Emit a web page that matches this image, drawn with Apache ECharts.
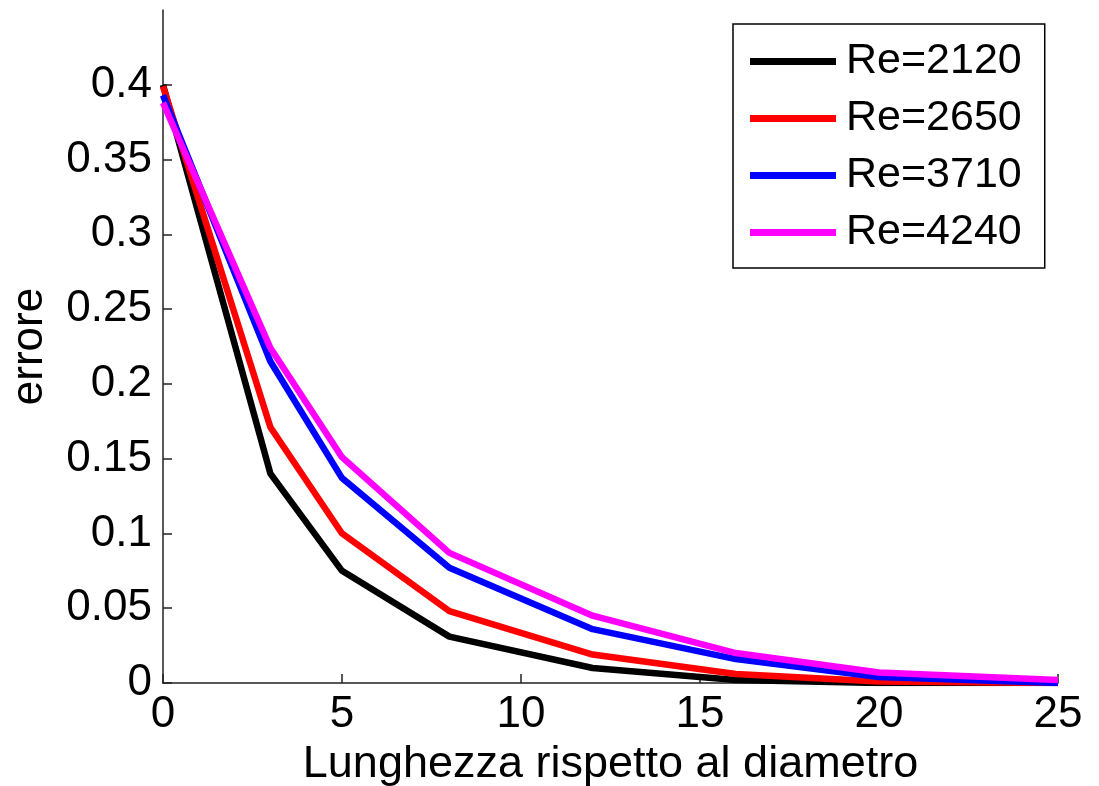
<!DOCTYPE html>
<html>
<head>
<meta charset="utf-8">
<script src="https://cdn.jsdelivr.net/npm/echarts@6/dist/echarts.min.js"></script>
<style>
  html, body { margin: 0; padding: 0; background: #fff; }
  #chart { width: 1099px; height: 786px; }
</style>
</head>
<body>
<div id="chart"></div>
<script>
// dati
var lunghezza = [0, 3, 5, 8, 12, 16, 20, 25];
var seriesNames = ['Re=2120', 'Re=2650', 'Re=3710', 'Re=4240'];
var re2120 = [0.400, 0.140, 0.075, 0.031, 0.010, 0.002, 0.000, 0.000];
var re2650 = [0.399, 0.171, 0.100, 0.048, 0.019, 0.006, 0.001, 0.000];
var re3710 = [0.393, 0.215, 0.137, 0.077, 0.036, 0.016, 0.004, 0.000];
var re4240 = [0.388, 0.224, 0.151, 0.087, 0.045, 0.020, 0.007, 0.002];
var yTicks = [0, 0.05, 0.1, 0.15, 0.2, 0.25, 0.3, 0.35, 0.4];

var colors = ['#000000', '#ff0000', '#0000ff', '#ff00ff'];
var allValues = [re2120, re2650, re3710, re4240];
var fontName = '"Liberation Sans", Arial, sans-serif';

var chart = echarts.init(document.getElementById('chart'));

function pairs(vals) {
    return lunghezza.map(function (x, i) { return [x, vals[i]]; });
}

var axisLineStyle = { color: '#222', width: 1.5 };

var option = {
    animation: false,
    backgroundColor: '#fff',
    grid: { left: 163, right: 41, top: 10, bottom: 103, outerBoundsMode: 'none', containLabel: false },
    legend: {
        orient: 'vertical',
        left: 733,
        top: 24,
        padding: [16, 23, 14, 17],
        itemGap: 14,
        itemWidth: 86,
        itemHeight: 7,
        icon: 'rect',
        borderColor: '#000',
        borderWidth: 1.5,
        backgroundColor: '#fff',
        data: seriesNames,
        textStyle: {
            fontFamily: fontName,
            fontSize: 43,
            color: '#000',
            padding: [0, 0, 0, 5]
        }
    },
    xAxis: {
        type: 'value',
        min: 0,
        max: 25,
        interval: 5,
        name: 'Lunghezza rispetto al diametro',
        nameLocation: 'middle',
        nameGap: 58,
        nameTextStyle: { fontFamily: fontName, fontSize: 45, color: '#000' },
        axisLine: { show: true, lineStyle: axisLineStyle },
        axisTick: { show: true, inside: true, length: 9, lineStyle: axisLineStyle },
        axisLabel: { fontFamily: fontName, fontSize: 44, color: '#000', margin: 10 },
        splitLine: { show: false }
    },
    yAxis: {
        type: 'value',
        min: 0,
        max: 0.45,
        name: 'errore',
        nameLocation: 'middle',
        nameGap: 111,
        nameTextStyle: { fontFamily: fontName, fontSize: 44, color: '#000' },
        axisLine: { show: true, lineStyle: axisLineStyle },
        axisTick: { show: true, inside: true, length: 9, lineStyle: axisLineStyle, customValues: yTicks },
        axisLabel: { fontFamily: fontName, fontSize: 44, color: '#000', margin: 11, customValues: yTicks },
        splitLine: { show: false }
    },
    series: seriesNames.map(function (name, i) {
        return {
            name: name,
            type: 'line',
            data: pairs(allValues[i]),
            showSymbol: false,
            symbol: 'none',
            color: colors[i],
            lineStyle: { color: colors[i], width: 6.5 },
            z: 2 + i
        };
    })
};

chart.setOption(option);
</script>
</body>
</html>
